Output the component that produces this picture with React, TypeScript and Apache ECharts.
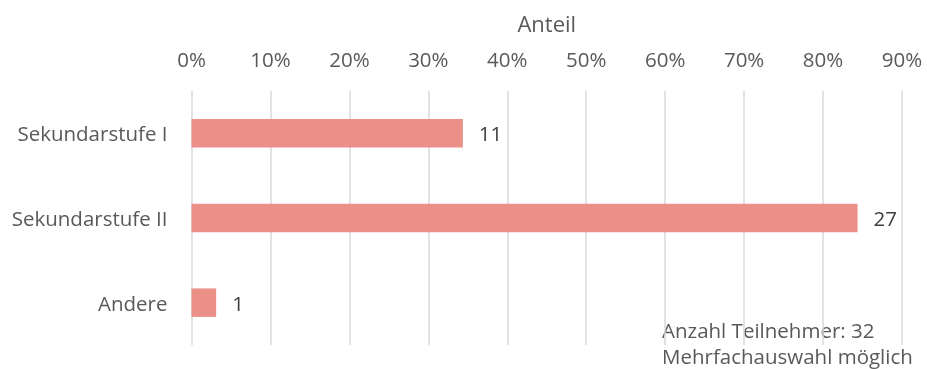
import React, { useEffect, useRef } from "react";
import * as echarts from "echarts";

const categories = ["Sekundarstufe I", "Sekundarstufe II", "Andere"];
const counts = [11, 27, 1];
const totalParticipants = 32;
const tickMax = 0.9;
const tickStep = 0.1;
const axisTitle = "Anteil";
const noteLines = ["Anzahl Teilnehmer: 32", "Mehrfachauswahl möglich"];

const FONT = "'Open Sans', sans-serif";
const FS = 20.5;

export default function App() {
  const ref = useRef<HTMLDivElement>(null);
  useEffect(() => {
    document.body.style.margin = "0";
    const chart = echarts.init(ref.current!, null, { renderer: "svg" });
    const shares = counts.map((c) => c / totalParticipants);
    chart.setOption({
      animation: false,
      textStyle: { fontFamily: FONT },
      grid: { left: 191.5, top: 91, width: 710.5, height: 254, containLabel: false },
      xAxis: {
        type: "value",
        position: "top",
        min: 0,
        max: tickMax,
        interval: tickStep,
        name: axisTitle,
        nameLocation: "middle",
        nameGap: 57,
        nameTextStyle: { color: "#595959", fontSize: 22, fontFamily: FONT },
        axisLine: { show: false },
        axisTick: { show: false },
        axisLabel: {
          color: "#595959",
          fontSize: FS,
          fontFamily: FONT,
          margin: 22,
          formatter: (v: number) => Math.round(v * 100) + "%",
        },
        splitLine: { show: true, lineStyle: { color: "#d9d9d9", width: 1.5 } },
      },
      yAxis: {
        type: "category",
        inverse: true,
        data: categories,
        axisLine: { show: false },
        axisTick: { show: false },
        axisLabel: { color: "#595959", fontSize: FS, fontFamily: FONT, margin: 24 },
      },
      series: [
        {
          type: "bar",
          data: shares,
          barWidth: 28.5,
          itemStyle: { color: "#ea9088" },
          label: {
            show: true,
            position: "right",
            distance: 16,
            color: "#404040",
            fontSize: FS,
            fontFamily: FONT,
            formatter: (p: any) => String(counts[p.dataIndex]),
          },
        },
      ],
      graphic: noteLines.map((line, i) => ({
        type: "text",
        x: 662,
        y: 330 + i * 26,
        style: {
          text: line,
          fill: "#595959",
          font: `${FS}px ${FONT}`,
          verticalAlign: "middle",
          lineHeight: 22,
        },
      })),
    });
    return () => chart.dispose();
  }, []);
  return <div ref={ref} style={{ width: 927, height: 369, position: "fixed", left: 0, top: 0 }} />;
}
